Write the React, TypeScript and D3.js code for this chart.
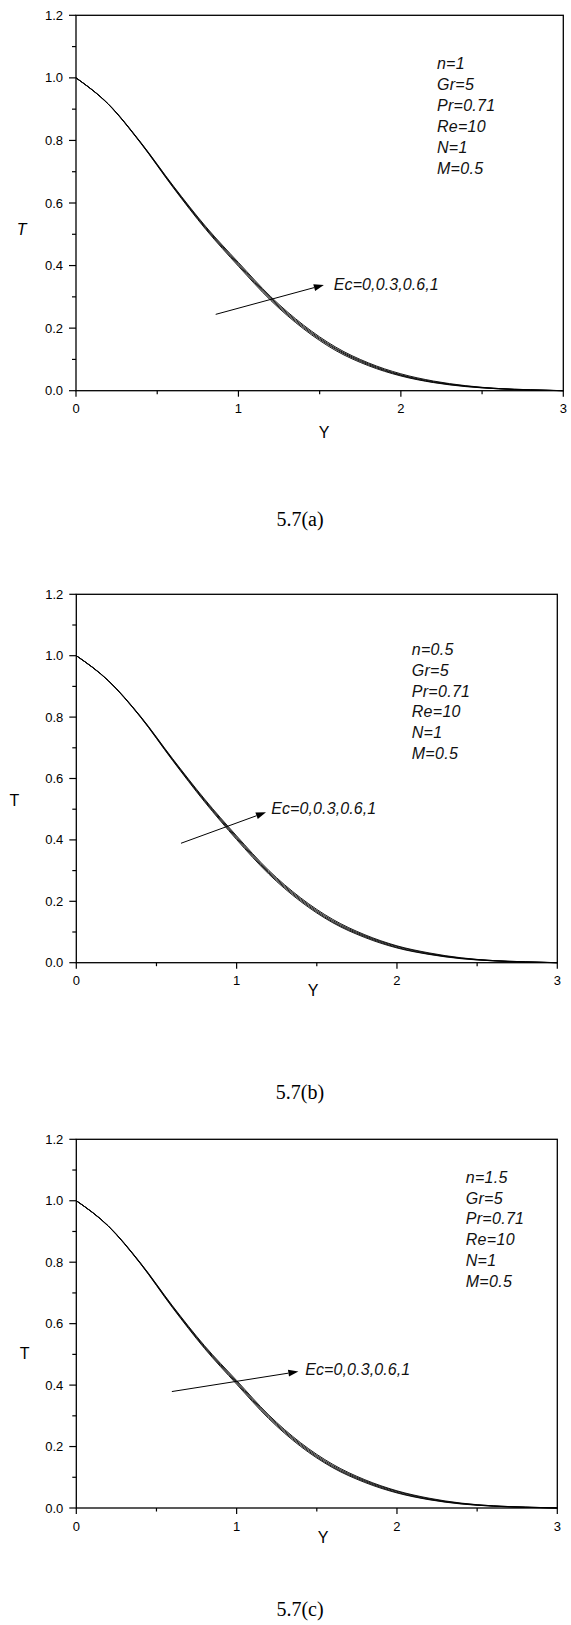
import React from "react";
import * as d3 from "d3";

// ---------- data ----------
const yGrid = [0, 0.2, 0.4, 0.6, 0.8, 1.0, 1.2, 1.4, 1.6, 1.8, 2.0, 2.2, 2.4, 2.6, 2.8, 3.0];
const ecLabels = ["0", "0.3", "0.6", "1"];

// panel (a) n=1
const a_Ec0 = [1.0, 0.915, 0.79, 0.648, 0.515, 0.398, 0.288, 0.198, 0.128, 0.08, 0.047, 0.026, 0.013, 0.006, 0.002, 0.0];
const a_Ec03 = [1.0, 0.915, 0.791, 0.65, 0.518, 0.402, 0.292, 0.202, 0.132, 0.083, 0.049, 0.027, 0.014, 0.006, 0.002, 0.0];
const a_Ec06 = [1.0, 0.916, 0.792, 0.652, 0.521, 0.406, 0.296, 0.206, 0.135, 0.086, 0.051, 0.029, 0.015, 0.007, 0.003, 0.0];
const a_Ec1 = [1.0, 0.916, 0.793, 0.654, 0.524, 0.41, 0.3, 0.21, 0.139, 0.089, 0.054, 0.031, 0.016, 0.007, 0.003, 0.0];

// panel (b) n=0.5
const b_Ec0 = [1.0, 0.918, 0.8, 0.659, 0.524, 0.401, 0.289, 0.199, 0.13, 0.082, 0.048, 0.027, 0.013, 0.006, 0.002, 0.0];
const b_Ec03 = [1.0, 0.918, 0.801, 0.661, 0.527, 0.405, 0.293, 0.203, 0.133, 0.085, 0.05, 0.028, 0.014, 0.006, 0.002, 0.0];
const b_Ec06 = [1.0, 0.919, 0.802, 0.663, 0.53, 0.409, 0.297, 0.207, 0.137, 0.088, 0.053, 0.03, 0.015, 0.007, 0.003, 0.0];
const b_Ec1 = [1.0, 0.919, 0.803, 0.665, 0.533, 0.413, 0.301, 0.211, 0.141, 0.091, 0.055, 0.032, 0.016, 0.007, 0.003, 0.0];

// panel (c) n=1.5
const c_Ec0 = [1.0, 0.917, 0.795, 0.652, 0.519, 0.403, 0.291, 0.2, 0.131, 0.083, 0.049, 0.027, 0.013, 0.006, 0.002, 0.0];
const c_Ec03 = [1.0, 0.917, 0.796, 0.654, 0.522, 0.407, 0.295, 0.204, 0.134, 0.086, 0.051, 0.028, 0.014, 0.006, 0.002, 0.0];
const c_Ec06 = [1.0, 0.918, 0.797, 0.656, 0.525, 0.411, 0.299, 0.208, 0.138, 0.089, 0.054, 0.03, 0.015, 0.007, 0.003, 0.0];
const c_Ec1 = [1.0, 0.918, 0.798, 0.658, 0.528, 0.415, 0.303, 0.212, 0.142, 0.092, 0.056, 0.032, 0.016, 0.007, 0.003, 0.0];

const xMajorTicks = [0, 1, 2, 3];
const xMinorTicks = [0.5, 1.5, 2.5];
const yMajorTicks = [0, 0.2, 0.4, 0.6, 0.8, 1.0, 1.2];
const yMinorTicks = [0.1, 0.3, 0.5, 0.7, 0.9, 1.1];

const paramsA = ["n=1", "Gr=5", "Pr=0.71", "Re=10", "N=1", "M=0.5"];
const paramsB = ["n=0.5", "Gr=5", "Pr=0.71", "Re=10", "N=1", "M=0.5"];
const paramsC = ["n=1.5", "Gr=5", "Pr=0.71", "Re=10", "N=1", "M=0.5"];

const ecText = "Ec=" + ecLabels.join(",");

// ---------- layout ----------
type PanelCfg = {
  series: number[][];
  params: string[];
  box: { l: number; r: number; t: number; b: number };
  tLabel: { x: number; y: number; italic: boolean };
  yLabel: { x: number; y: number };
  caption: { x: number; y: number; text: string };
  paramAt: [number, number];
  paramStep: number;
  arrowFrom: [number, number];
  arrowTo: [number, number];
  ecAt: [number, number];
};

const panels: PanelCfg[] = [
  {
    series: [a_Ec0, a_Ec03, a_Ec06, a_Ec1],
    params: paramsA,
    box: { l: 76, r: 563.3, t: 15.3, b: 390.7 },
    tLabel: { x: 21.7, y: 229, italic: true },
    yLabel: { x: 324, y: 432 },
    caption: { x: 300, y: 519, text: "5.7(a)" },
    paramAt: [2.222, 1.047],
    paramStep: 21.1,
    arrowFrom: [0.86, 0.244],
    arrowTo: [1.526, 0.338],
    ecAt: [1.587, 0.338],
  },
  {
    series: [b_Ec0, b_Ec03, b_Ec06, b_Ec1],
    params: paramsB,
    box: { l: 76.3, r: 557.3, t: 594.3, b: 962.7 },
    tLabel: { x: 14.4, y: 800, italic: false },
    yLabel: { x: 313, y: 990 },
    caption: { x: 300, y: 1092, text: "5.7(b)" },
    paramAt: [2.092, 1.019],
    paramStep: 20.7,
    arrowFrom: [0.653, 0.389],
    arrowTo: [1.183, 0.49],
    ecAt: [1.216, 0.503],
  },
  {
    series: [c_Ec0, c_Ec03, c_Ec06, c_Ec1],
    params: paramsC,
    box: { l: 76.3, r: 557.3, t: 1139.3, b: 1508 },
    tLabel: { x: 24.6, y: 1353, italic: false },
    yLabel: { x: 323, y: 1537 },
    caption: { x: 300, y: 1609, text: "5.7(c)" },
    paramAt: [2.429, 1.076],
    paramStep: 20.8,
    arrowFrom: [0.596, 0.379],
    arrowTo: [1.385, 0.444],
    ecAt: [1.428, 0.451],
  },
];

const SANS = "Arial, 'Liberation Sans', sans-serif";
const SERIF = "'Times New Roman', 'Liberation Serif', serif";

function Panel({ cfg, idx }: { cfg: PanelCfg; idx: number }) {
  const { box } = cfg;
  const x = d3.scaleLinear().domain([0, 3]).range([box.l, box.r]);
  const y = d3.scaleLinear().domain([0, 1.2]).range([box.b, box.t]);
  const line = d3
    .line<number>()
    .x((_, i) => x(yGrid[i]))
    .y((d) => y(d))
    .curve(d3.curveMonotoneX);

  const ax = x(cfg.arrowFrom[0]);
  const ay = y(cfg.arrowFrom[1]);
  const bx = x(cfg.arrowTo[0]);
  const by = y(cfg.arrowTo[1]);
  const ang = Math.atan2(by - ay, bx - ax);
  const hl = 10;
  const hw = 3.5;
  const baseX = bx - hl * Math.cos(ang);
  const baseY = by - hl * Math.sin(ang);
  const head = [
    [bx, by],
    [baseX + hw * Math.sin(ang), baseY - hw * Math.cos(ang)],
    [baseX - hw * Math.sin(ang), baseY + hw * Math.cos(ang)],
  ]
    .map((p) => p.join(","))
    .join(" ");

  return (
    <g>
      {/* curves */}
      {cfg.series.map((s, i) => (
        <path key={i} d={line(s) || ""} fill="none" stroke="#000" strokeWidth={0.9} />
      ))}
      {/* frame */}
      <rect x={box.l} y={box.t} width={box.r - box.l} height={box.b - box.t} fill="none" stroke="#000" strokeWidth={1.3} />
      {/* x ticks */}
      {xMajorTicks.map((t) => (
        <g key={"xm" + t}>
          <line x1={x(t)} x2={x(t)} y1={box.b} y2={box.b + 6} stroke="#000" strokeWidth={1.2} />
          <text x={x(t)} y={box.b + 18} textAnchor="middle" dominantBaseline="central" fontFamily={SANS} fontSize={13} fill="#000">
            {t}
          </text>
        </g>
      ))}
      {xMinorTicks.map((t) => (
        <line key={"xn" + t} x1={x(t)} x2={x(t)} y1={box.b} y2={box.b + 3.5} stroke="#000" strokeWidth={1.2} />
      ))}
      {/* y ticks */}
      {yMajorTicks.map((t) => (
        <g key={"ym" + t}>
          <line x1={box.l - 7} x2={box.l} y1={y(t)} y2={y(t)} stroke="#000" strokeWidth={1.2} />
          <text x={box.l - 13} y={y(t)} textAnchor="end" dominantBaseline="central" fontFamily={SANS} fontSize={13} fill="#000">
            {t.toFixed(1)}
          </text>
        </g>
      ))}
      {yMinorTicks.map((t) => (
        <line key={"yn" + t} x1={box.l - 4} x2={box.l} y1={y(t)} y2={y(t)} stroke="#000" strokeWidth={1.2} />
      ))}
      {/* axis titles */}
      <text
        x={cfg.tLabel.x}
        y={cfg.tLabel.y}
        textAnchor="middle"
        dominantBaseline="central"
        fontFamily={SANS}
        fontSize={16}
        fontStyle={cfg.tLabel.italic ? "italic" : "normal"}
        fill="#000"
      >
        T
      </text>
      <text x={cfg.yLabel.x} y={cfg.yLabel.y} textAnchor="middle" dominantBaseline="central" fontFamily={SANS} fontSize={16} fill="#000">
        Y
      </text>
      {/* parameters */}
      {cfg.params.map((p, i) => (
        <text
          key={p + idx}
          x={x(cfg.paramAt[0])}
          y={y(cfg.paramAt[1]) + i * cfg.paramStep}
          dominantBaseline="central"
          fontFamily={SANS}
          fontStyle="italic"
          fontSize={16}
          letterSpacing={0.3}
          fill="#111"
        >
          {p}
        </text>
      ))}
      {/* arrow + Ec label */}
      <line x1={ax} y1={ay} x2={baseX} y2={baseY} stroke="#000" strokeWidth={1} />
      <polygon points={head} fill="#000" />
      <text
        x={x(cfg.ecAt[0])}
        y={y(cfg.ecAt[1])}
        dominantBaseline="central"
        fontFamily={SANS}
        fontStyle="italic"
        fontSize={16}
        letterSpacing={0.1}
        fill="#111"
      >
        {ecText}
      </text>
      {/* caption */}
      <text x={cfg.caption.x} y={cfg.caption.y} textAnchor="middle" dominantBaseline="central" fontFamily={SERIF} fontSize={20} fill="#000">
        {cfg.caption.text}
      </text>
    </g>
  );
}

export default function App() {
  return (
    <svg
      width={571}
      height={1625}
      viewBox="0 0 571 1625"
      style={{ position: "absolute", left: 0, top: 0, background: "#fff" }}
    >
      <rect x={0} y={0} width={571} height={1625} fill="#fff" />
      {panels.map((p, i) => (
        <Panel key={i} cfg={p} idx={i} />
      ))}
    </svg>
  );
}
